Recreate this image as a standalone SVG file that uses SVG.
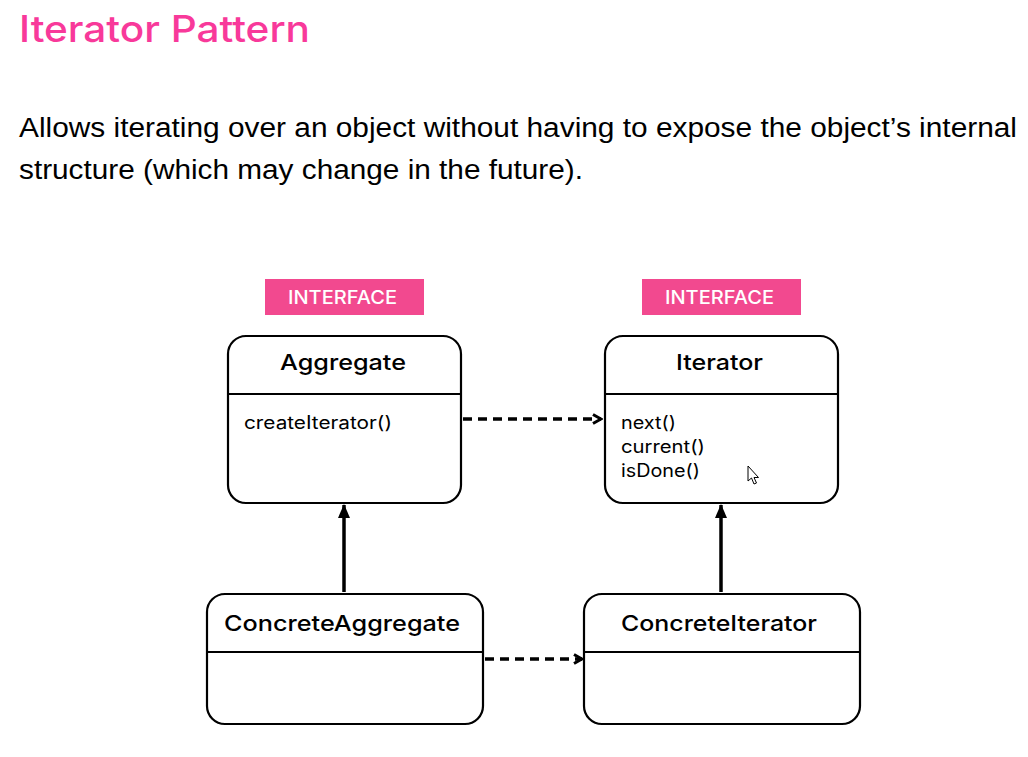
<svg xmlns="http://www.w3.org/2000/svg" width="1028" height="757" viewBox="0 0 1028 757">
<style>
.title{font-family:Inter,"Noto Sans",sans-serif;font-size:37px;fill:#f8399a;font-weight:500}
.body{font-family:"Liberation Sans",Arial,sans-serif;font-size:27px;fill:#000}
.badge{fill:#f2498f}
.badgetxt{font-family:Inter,"Noto Sans",sans-serif;font-size:19px;fill:#fff;font-weight:500}
.box{fill:#fff;stroke:#000;stroke-width:2.2}
.div{stroke:#000;stroke-width:2.2}
.name{font-family:Inter,"Noto Sans",sans-serif;font-size:22px;fill:#000;font-weight:500}
.meth{font-family:Inter,"Noto Sans",sans-serif;font-size:18px;fill:#000;font-weight:400}
.dash{fill:none;stroke:#000;stroke-width:3.5;stroke-dasharray:9 6}
.solid{fill:none;stroke:#000;stroke-width:3.5}
</style>
<defs>
<marker id="open" viewBox="0 0 12 12" refX="10" refY="6" markerWidth="12" markerHeight="12" markerUnits="userSpaceOnUse" orient="auto">
<path d="M2,1.5 L10,6 L2,10.5" fill="none" stroke="#000" stroke-width="3"/>
</marker>
<marker id="tri" viewBox="0 0 14 14" refX="13" refY="7" markerWidth="14" markerHeight="14" markerUnits="userSpaceOnUse" orient="auto">
<path d="M0,1 L14,7 L0,13 Z" fill="#000"/>
</marker>
</defs>
<rect width="1028" height="757" fill="#fff"/>
<text class="title" x="19" y="42" textLength="291" lengthAdjust="spacingAndGlyphs">Iterator Pattern</text>
<text class="body" x="19" y="137" textLength="998" lengthAdjust="spacingAndGlyphs">Allows iterating over an object without having to expose the object’s internal</text>
<text class="body" x="19" y="179" textLength="564" lengthAdjust="spacingAndGlyphs">structure (which may change in the future).</text>

<g id="connectors">
<path class="dash" d="M463,419 L601,419" marker-end="url(#open)"/>
<path class="dash" d="M485,659 L582,659" marker-end="url(#open)"/>
<path class="solid" d="M344,592 L344,505" marker-end="url(#tri)"/>
<path class="solid" d="M721,592 L721,505" marker-end="url(#tri)"/>
</g>

<g id="badge-aggregate">
<rect class="badge" x="265" y="279" width="159" height="36"/>
<text class="badgetxt" x="288" y="304" textLength="109" lengthAdjust="spacingAndGlyphs">INTERFACE</text>
</g>
<g id="badge-iterator">
<rect class="badge" x="642" y="279" width="159" height="36"/>
<text class="badgetxt" x="665" y="304" textLength="109" lengthAdjust="spacingAndGlyphs">INTERFACE</text>
</g>

<g id="aggregate">
<rect class="box" x="228" y="336" width="233" height="167" rx="18"/>
<line class="div" x1="228" y1="394" x2="461" y2="394"/>
<text class="name" x="280" y="370" textLength="126" lengthAdjust="spacingAndGlyphs">Aggregate</text>
<text class="meth" x="244" y="429" textLength="148" lengthAdjust="spacingAndGlyphs">createIterator()</text>
</g>

<g id="iterator">
<rect class="box" x="605" y="336" width="233" height="167" rx="18"/>
<line class="div" x1="605" y1="394" x2="838" y2="394"/>
<text class="name" x="676" y="370" textLength="87" lengthAdjust="spacingAndGlyphs">Iterator</text>
<text class="meth" x="621" y="429" textLength="55" lengthAdjust="spacingAndGlyphs">next()</text>
<text class="meth" x="621" y="453" textLength="84" lengthAdjust="spacingAndGlyphs">current()</text>
<text class="meth" x="621" y="477" textLength="79" lengthAdjust="spacingAndGlyphs">isDone()</text>
</g>

<g id="concrete-aggregate">
<rect class="box" x="207" y="594" width="276" height="130" rx="18"/>
<line class="div" x1="207" y1="652" x2="483" y2="652"/>
<text class="name" x="224" y="631" textLength="236" lengthAdjust="spacingAndGlyphs">ConcreteAggregate</text>
</g>

<g id="concrete-iterator">
<rect class="box" x="584" y="594" width="276" height="130" rx="18"/>
<line class="div" x1="584" y1="652" x2="860" y2="652"/>
<text class="name" x="621" y="631" textLength="196" lengthAdjust="spacingAndGlyphs">ConcreteIterator</text>
</g>

<path d="M748,466 L748,481 L751.5,478 L754,484 L756.5,483 L754,477.5 L758.5,477.5 Z" fill="#fff" stroke="#000" stroke-width="1"/>
</svg>
